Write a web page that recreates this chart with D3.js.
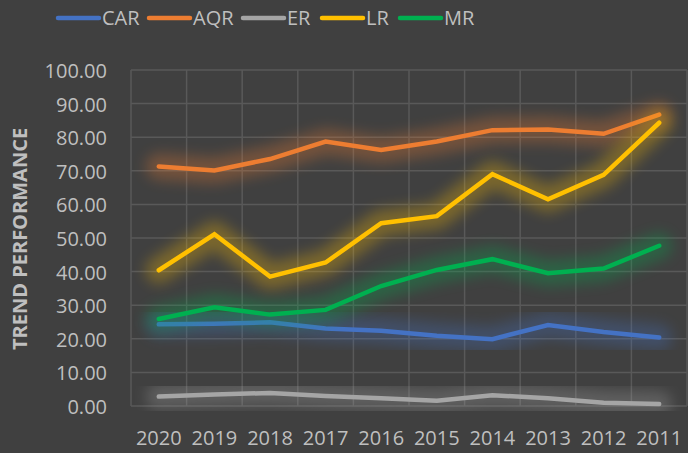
<!DOCTYPE html>
<html>
<head>
<meta charset="utf-8">
<script src="https://cdn.jsdelivr.net/npm/d3@7"></script>
<style>
  html, body { margin: 0; padding: 0; background: #404040; }
  svg { display: block; }
  text { font-family: "Open Sans", sans-serif; fill: #bfbfbf; }
</style>
</head>
<body>
<div id="chart"></div>
<script>
const years = ["2020", "2019", "2018", "2017", "2016", "2015", "2014", "2013", "2012", "2011"];
const seriesNames = ["CAR", "AQR", "ER", "LR", "MR"];
const seriesColors = ["#4472c4", "#ed7d31", "#a5a5a5", "#ffc000", "#00b050"];
const carValues = [24.3, 24.5, 24.9, 23.1, 22.4, 20.9, 19.9, 24.1, 22.0, 20.4];
const aqrValues = [71.3, 70.1, 73.5, 78.7, 76.2, 78.7, 82.1, 82.3, 81.0, 86.7];
const erValues  = [2.8, 3.4, 3.9, 3.0, 2.3, 1.6, 3.2, 2.3, 1.0, 0.6];
const lrValues  = [40.4, 51.1, 38.5, 42.7, 54.4, 56.5, 69.0, 61.5, 68.8, 84.3];
const mrValues  = [25.9, 29.4, 27.2, 28.6, 35.7, 40.5, 43.7, 39.5, 40.9, 47.7];
const yTicks = [0, 10, 20, 30, 40, 50, 60, 70, 80, 90, 100];
const yTitle = "TREND PERFORMANCE";

const allValues = [carValues, aqrValues, erValues, lrValues, mrValues];

const width = 688,
      height = 453,
      margin = { top: 70, right: 1, bottom: 47, left: 131 };

const svg = d3.select("#chart")
  .append("svg")
  .attr("width", width)
  .attr("height", height);

svg.append("rect")
  .attr("width", width)
  .attr("height", height)
  .attr("fill", "#404040");

// soft glow behind each line
const defs = svg.append("defs");
defs.append("filter")
  .attr("id", "glow")
  .attr("x", "-20%").attr("y", "-60%")
  .attr("width", "140%").attr("height", "220%")
  .append("feGaussianBlur")
  .attr("stdDeviation", 7);

const x = d3.scaleBand()
  .domain(years)
  .range([margin.left, width - margin.right]);

const y = d3.scaleLinear()
  .domain([0, 100])
  .range([height - margin.bottom, margin.top]);

// gridlines
const grid = svg.append("g").attr("stroke", "#595959").attr("stroke-width", 1.5);
grid.selectAll("line.h")
  .data(yTicks)
  .enter()
  .append("line")
  .attr("class", "h")
  .attr("x1", margin.left)
  .attr("x2", width - margin.right)
  .attr("y1", d => y(d))
  .attr("y2", d => y(d));

const bounds = years.map(d => x(d)).concat([x(years[years.length - 1]) + x.bandwidth()]);
grid.selectAll("line.v")
  .data(bounds)
  .enter()
  .append("line")
  .attr("class", "v")
  .attr("x1", d => d)
  .attr("x2", d => d)
  .attr("y1", y(100))
  .attr("y2", y(0));

// y axis labels
const yAxis = d3.axisLeft(y)
  .tickValues(yTicks)
  .tickFormat(d3.format(".2f"))
  .tickSize(0)
  .tickPadding(0);

const yg = svg.append("g")
  .attr("transform", `translate(${margin.left - 24}, 1)`)
  .call(yAxis);
yg.select(".domain").remove();
yg.selectAll("text")
  .style("font-size", "20px")
  .attr("fill", "#bfbfbf");

// x axis labels
const xAxis = d3.axisBottom(x).tickSize(0).tickPadding(0);
const xg = svg.append("g")
  .attr("transform", `translate(0, ${height - 15})`)
  .call(xAxis);
xg.select(".domain").remove();
xg.selectAll("text")
  .style("font-size", "20px")
  .attr("fill", "#bfbfbf")
  .attr("dy", "0.35em")
  .attr("y", 0);

// axis title
svg.append("text")
  .attr("transform", `translate(20, ${(y(0) + y(100)) / 2 + 1}) rotate(-90)`)
  .attr("text-anchor", "middle")
  .attr("dy", "0.35em")
  .style("font-size", "20px")
  .style("font-weight", "bold")
  .text(yTitle);

// lines
const line = d3.line()
  .x((d, i) => x(years[i]) + x.bandwidth() / 2)
  .y(d => y(d));

allValues.forEach((vals, i) => {
  const g = svg.append("g");
  g.append("path")
    .datum(vals)
    .attr("d", line)
    .attr("fill", "none")
    .attr("stroke", seriesColors[i])
    .attr("stroke-width", 26)
    .attr("stroke-linejoin", "round")
    .attr("stroke-linecap", "round")
    .attr("opacity", 0.3)
    .attr("filter", "url(#glow)");
  g.append("path")
    .datum(vals)
    .attr("d", line)
    .attr("fill", "none")
    .attr("stroke", seriesColors[i])
    .attr("stroke-width", 4.5)
    .attr("stroke-linejoin", "miter")
    .attr("stroke-linecap", "round");
});

// legend
const legendX = [58, 149, 243, 322, 400];
const legend = svg.append("g");
seriesNames.forEach((name, i) => {
  const lg = legend.append("g").attr("transform", `translate(${legendX[i]}, 18)`);
  lg.append("line")
    .attr("x1", 0).attr("x2", 41)
    .attr("y1", 0).attr("y2", 0)
    .attr("stroke", seriesColors[i])
    .attr("stroke-width", 4.5)
    .attr("stroke-linecap", "round");
  lg.append("text")
    .attr("x", 44)
    .attr("dy", "0.36em")
    .style("font-size", "20px")
    .text(name);
});
</script>
</body>
</html>
